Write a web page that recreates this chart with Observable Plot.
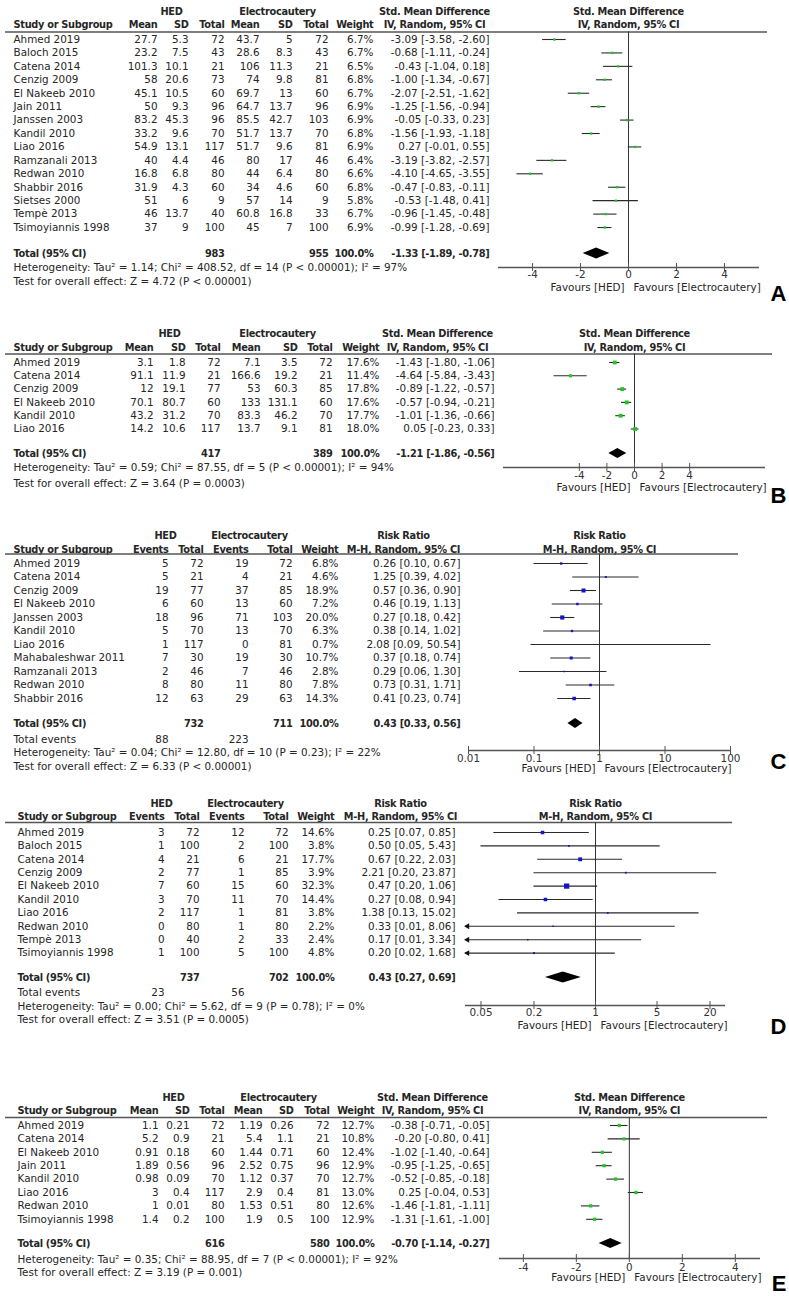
<!DOCTYPE html>
<html><head><meta charset="utf-8">
<script src="https://cdn.jsdelivr.net/npm/d3@7"></script>
<script src="https://cdn.jsdelivr.net/npm/@observablehq/plot@0.6"></script>
<style>
body{margin:0;background:#fff}
#root{position:relative;width:789px;height:1296px;overflow:hidden;background:#fff}
#root svg{position:absolute;left:0;font-family:"DejaVu Sans",sans-serif !important}
#root svg g[font-weight="bold"]{letter-spacing:-0.3px}
</style></head><body><div id="root"></div>
<script>
// ---------- Panel A : Std. Mean Difference ----------
const studiesA = ["Ahmed 2019","Baloch 2015","Catena 2014","Cenzig 2009","El Nakeeb 2010","Jain 2011","Janssen 2003","Kandil 2010","Liao 2016","Ramzanali 2013","Redwan 2010","Shabbir 2016","Sietses 2000","Tempè 2013","Tsimoyiannis 1998"];
const hedMeanA = [27.7,23.2,101.3,58,45.1,50,83.2,33.2,54.9,40,16.8,31.9,51,46,37];
const hedSdA = [5.3,7.5,10.1,20.6,10.5,9.3,45.3,9.6,13.1,4.4,6.8,4.3,6,13.7,9];
const hedNA = [72,43,21,73,60,96,96,70,117,46,80,60,9,40,100];
const elMeanA = [43.7,28.6,106,74,69.7,64.7,85.5,51.7,51.7,80,44,34,57,60.8,45];
const elSdA = [5,8.3,11.3,9.8,13,13.7,42.7,13.7,9.6,17,6.4,4.6,14,16.8,7];
const elNA = [72,43,21,81,60,96,103,70,81,46,80,60,9,33,100];
const weightA = [6.7,6.7,6.5,6.8,6.7,6.9,6.9,6.8,6.9,6.4,6.6,6.8,5.8,6.7,6.9];
const estA = [-3.09,-0.68,-0.43,-1.00,-2.07,-1.25,-0.05,-1.56,0.27,-3.19,-4.10,-0.47,-0.53,-0.96,-0.99];
const loA = [-3.58,-1.11,-1.04,-1.34,-2.51,-1.56,-0.33,-1.93,-0.01,-3.82,-4.65,-0.83,-1.48,-1.45,-1.28];
const hiA = [-2.60,-0.24,0.18,-0.67,-1.62,-0.94,0.23,-1.18,0.55,-2.57,-3.55,-0.11,0.41,-0.48,-0.69];
const totalA = {hedN:983, elN:955, est:-1.33, lo:-1.89, hi:-0.78};
const hetA = "Heterogeneity: Tau² = 1.14; Chi² = 408.52, df = 14 (P < 0.00001); I² = 97%";
const testA = "Test for overall effect: Z = 4.72 (P < 0.00001)";

// ---------- Panel B : Std. Mean Difference ----------
const studiesB = ["Ahmed 2019","Catena 2014","Cenzig 2009","El Nakeeb 2010","Kandil 2010","Liao 2016"];
const hedMeanB = [3.1,91.1,12,70.1,43.2,14.2];
const hedSdB = [1.8,11.9,19.1,80.7,31.2,10.6];
const hedNB = [72,21,77,60,70,117];
const elMeanB = [7.1,166.6,53,133,83.3,13.7];
const elSdB = [3.5,19.2,60.3,131.1,46.2,9.1];
const elNB = [72,21,85,60,70,81];
const weightB = [17.6,11.4,17.8,17.6,17.7,18.0];
const estB = [-1.43,-4.64,-0.89,-0.57,-1.01,0.05];
const loB = [-1.80,-5.84,-1.22,-0.94,-1.36,-0.23];
const hiB = [-1.06,-3.43,-0.57,-0.21,-0.66,0.33];
const totalB = {hedN:417, elN:389, est:-1.21, lo:-1.86, hi:-0.56};
const hetB = "Heterogeneity: Tau² = 0.59; Chi² = 87.55, df = 5 (P < 0.00001); I² = 94%";
const testB = "Test for overall effect: Z = 3.64 (P = 0.0003)";

// ---------- Panel C : Risk Ratio ----------
const studiesC = ["Ahmed 2019","Catena 2014","Cenzig 2009","El Nakeeb 2010","Janssen 2003","Kandil 2010","Liao 2016","Mahabaleshwar 2011","Ramzanali 2013","Redwan 2010","Shabbir 2016"];
const hedEvC = [5,5,19,6,18,5,1,7,2,8,12];
const hedNC = [72,21,77,60,96,70,117,30,46,80,63];
const elEvC = [19,4,37,13,71,13,0,19,7,11,29];
const elNC = [72,21,85,60,103,70,81,30,46,80,63];
const weightC = [6.8,4.6,18.9,7.2,20.0,6.3,0.7,10.7,2.8,7.8,14.3];
const estC = [0.26,1.25,0.57,0.46,0.27,0.38,2.08,0.37,0.29,0.73,0.41];
const loC = [0.10,0.39,0.36,0.19,0.18,0.14,0.09,0.18,0.06,0.31,0.23];
const hiC = [0.67,4.02,0.90,1.13,0.42,1.02,50.54,0.74,1.30,1.71,0.74];
const totalC = {hedN:732, elN:711, est:0.43, lo:0.33, hi:0.56, hedEv:88, elEv:223};
const hetC = "Heterogeneity: Tau² = 0.04; Chi² = 12.80, df = 10 (P = 0.23); I² = 22%";
const testC = "Test for overall effect: Z = 6.33 (P < 0.00001)";

// ---------- Panel D : Risk Ratio ----------
const studiesD = ["Ahmed 2019","Baloch 2015","Catena 2014","Cenzig 2009","El Nakeeb 2010","Kandil 2010","Liao 2016","Redwan 2010","Tempè 2013","Tsimoyiannis 1998"];
const hedEvD = [3,1,4,2,7,3,2,0,0,1];
const hedND = [72,100,21,77,60,70,117,80,40,100];
const elEvD = [12,2,6,1,15,11,1,1,2,5];
const elND = [72,100,21,85,60,70,81,80,33,100];
const weightD = [14.6,3.8,17.7,3.9,32.3,14.4,3.8,2.2,2.4,4.8];
const estD = [0.25,0.50,0.67,2.21,0.47,0.27,1.38,0.33,0.17,0.20];
const loD = [0.07,0.05,0.22,0.20,0.20,0.08,0.13,0.01,0.01,0.02];
const hiD = [0.85,5.43,2.03,23.87,1.06,0.94,15.02,8.06,3.34,1.68];
const totalD = {hedN:737, elN:702, est:0.43, lo:0.27, hi:0.69, hedEv:23, elEv:56};
const hetD = "Heterogeneity: Tau² = 0.00; Chi² = 5.62, df = 9 (P = 0.78); I² = 0%";
const testD = "Test for overall effect: Z = 3.51 (P = 0.0005)";

// ---------- Panel E : Std. Mean Difference ----------
const studiesE = ["Ahmed 2019","Catena 2014","El Nakeeb 2010","Jain 2011","Kandil 2010","Liao 2016","Redwan 2010","Tsimoyiannis 1998"];
const hedMeanE = [1.1,5.2,0.91,1.89,0.98,3,1,1.4];
const hedSdE = [0.21,0.9,0.18,0.56,0.09,0.4,0.01,0.2];
const hedNE = [72,21,60,96,70,117,80,100];
const elMeanE = [1.19,5.4,1.44,2.52,1.12,2.9,1.53,1.9];
const elSdE = [0.26,1.1,0.71,0.75,0.37,0.4,0.51,0.5];
const elNE = [72,21,60,96,70,81,80,100];
const weightE = [12.7,10.8,12.4,12.9,12.7,13.0,12.6,12.9];
const estE = [-0.38,-0.20,-1.02,-0.95,-0.52,0.25,-1.46,-1.31];
const loE = [-0.71,-0.80,-1.40,-1.25,-0.85,-0.04,-1.81,-1.61];
const hiE = [-0.05,0.41,-0.64,-0.65,-0.18,0.53,-1.11,-1.00];
const totalE = {hedN:616, elN:580, est:-0.70, lo:-1.14, hi:-0.27};
const hetE = "Heterogeneity: Tau² = 0.35; Chi² = 88.95, df = 7 (P < 0.00001); I² = 92%";
const testE = "Test for overall effect: Z = 3.19 (P = 0.001)";

// tick values / labels
const smdTicks = [-4,-2,0,2,4];
const smdTickLabels = ["-4","-2","0","2","4"];
const rrTicksC = [0.01,0.1,1,10,100];
const rrTickLabelsC = ["0.01","0.1","1","10","100"];
const rrTicksD = [0.05,0.2,1,5,20];
const rrTickLabelsD = ["0.05","0.2","1","5","20"];

// ---------- panel definitions (layout kept separate) ----------
const panels = [
  {letter:"A", kind:"cont", studies:studiesA, cols:[hedMeanA,hedSdA,hedNA,elMeanA,elSdA,elNA], weight:weightA, est:estA, lo:loA, hi:hiA, total:totalA, het:hetA, test:testA,
   effHdr:["Std. Mean Difference","IV, Random, 95% CI"], xType:"linear", nullV:0, ticks:smdTicks, tickLabels:smdTickLabels, color:"#22c622",
   L:{top:0, H:320, hdr1:11, hdr2:24, lineY:31.5, row0:39, rowH:13.43, total:253, het:267, test:281, axis:267, tick:274, fav:287, letterY:293,
      xr:[498,759], domain:[-5.42,5.46], lineX:[5,767], study:13, colX:[157,188,224,259,292,328,373], ci:489, hedC:171, elC:277, effC:434, dh:5.5}},
  {letter:"B", kind:"cont", studies:studiesB, cols:[hedMeanB,hedSdB,hedNB,elMeanB,elSdB,elNB], weight:weightB, est:estB, lo:loB, hi:hiB, total:totalB, het:hetB, test:testB,
   effHdr:["Std. Mean Difference","IV, Random, 95% CI"], xType:"linear", nullV:0, ticks:smdTicks, tickLabels:smdTickLabels, color:"#22c622",
   L:{top:320, H:200, hdr1:13, hdr2:27, lineY:33.5, row0:42, rowH:13.3, total:133, het:147, test:163, axis:147, tick:155, fav:167, letterY:175,
      xr:[503,765], domain:[-9.5,9.5], lineX:[5,772], study:13, colX:[153,185,220,260,297,332,379], ci:494, hedC:169, elC:277, effC:437, dh:5}},
  {letter:"C", kind:"dich", studies:studiesC, cols:[hedEvC,hedNC,elEvC,elNC], weight:weightC, est:estC, lo:loC, hi:hiC, total:totalC, het:hetC, test:testC,
   effHdr:["Risk Ratio","M-H, Random, 95% CI"], xType:"log", nullV:1, ticks:rrTicksC, tickLabels:rrTickLabelsC, color:"#1414c8",
   L:{top:520, H:260, hdr1:15, hdr2:29, lineY:33.5, row0:43, rowH:13.5, total:203, events:219, het:232, test:246, axis:230, tick:238, fav:248, letterY:241.5,
      xr:[468,730], domain:[0.01,100], lineX:[5,738], study:13, colX:[168,203,248,292,338], ci:460, hedC:165, elC:249, effC:403, dh:5}},
  {letter:"D", kind:"dich", studies:studiesD, cols:[hedEvD,hedND,elEvD,elND], weight:weightD, est:estD, lo:loD, hi:hiD, total:totalD, het:hetD, test:testD,
   effHdr:["Risk Ratio","M-H, Random, 95% CI"], xType:"log", nullV:1, ticks:rrTicksD, tickLabels:rrTickLabelsD, color:"#1414c8",
   L:{top:780, H:260, hdr1:23, hdr2:36, lineY:42, row0:52, rowH:13.4, total:197, events:212, het:226, test:239, axis:225, tick:232, fav:245, letterY:246.5,
      xr:[465,725], domain:[1/30,30], lineX:[5,732], study:17, colX:[164,199,244,288,334], ci:455, hedC:161, elC:245, effC:400, dh:5.5}},
  {letter:"E", kind:"cont", studies:studiesE, cols:[hedMeanE,hedSdE,hedNE,elMeanE,elSdE,elNE], weight:weightE, est:estE, lo:loE, hi:hiE, total:totalE, het:hetE, test:testE,
   effHdr:["Std. Mean Difference","IV, Random, 95% CI"], xType:"linear", nullV:0, ticks:smdTicks, tickLabels:smdTickLabels, color:"#22c622",
   L:{top:1040, H:256, hdr1:57, hdr2:70, lineY:77, row0:85, rowH:13.4, total:203, het:219, test:232, axis:218, tick:227, fav:237, letterY:243.5,
      xr:[499,760], domain:[-4.9,4.95], lineX:[5,767], study:17, colX:[158,189,224,262,293,329,374], ci:489, hedC:173, elC:278, effC:432, dh:5}}
];

const f2 = v => v.toFixed(2);
const ciText = (e,l,h) => `${f2(e)} [${f2(l)}, ${f2(h)}]`;
const INK = "#262626";
const FS = 10.4;      // regular text size
const FSB = 9.8;      // bold text size

function buildPanel(P) {
  const L = P.L;
  const cont = P.kind === "cont";
  const rows = P.studies.map((s,i) => ({study:s, i, y:L.row0 + i*L.rowH, est:P.est[i], lo:P.lo[i], hi:P.hi[i], w:P.weight[i]}));
  const [dmin, dmax] = L.domain;
  const T = (data, text, x, y, o = {}) => Plot.text(data, {frameAnchor:"left", dx:x, y, text, textAnchor:o.anchor || "end",
      fontWeight:o.bold ? "bold" : "normal", fontSize:o.bold ? FSB : FS, fill:INK, ...(o.extra || {})});
  const one = s => [s];
  const id = d => d;
  const sub = cont ? ["Mean","SD","Total","Mean","SD","Total","Weight"] : ["Events","Total","Events","Total","Weight"];
  const marks = [];
  // header
  marks.push(T(one("HED"), id, L.hedC, L.hdr1, {anchor:"middle", bold:true}));
  marks.push(T(one("Electrocautery"), id, L.elC, L.hdr1, {anchor:"middle", bold:true}));
  marks.push(T(one(P.effHdr[0]), id, L.effC, L.hdr1, {anchor:"middle", bold:true}));
  marks.push(T(one(P.effHdr[1]), id, L.effC, L.hdr2, {anchor:"middle", bold:true}));
  marks.push(T(one("Study or Subgroup"), id, L.study, L.hdr2, {anchor:"start", bold:true}));
  sub.forEach((s, c) => marks.push(T(one(s), id, L.colX[c], L.hdr2, {bold:true})));
  marks.push(Plot.text(one(P.effHdr[0]), {x:P.nullV, y:L.hdr1, text:id, fontWeight:"bold", fontSize:FSB, fill:INK}));
  marks.push(Plot.text(one(P.effHdr[1]), {x:P.nullV, y:L.hdr2, text:id, fontWeight:"bold", fontSize:FSB, fill:INK}));
  marks.push(Plot.ruleY([L.lineY], {insetLeft:L.lineX[0], insetRight:789 - L.lineX[1], stroke:"#555", strokeWidth:1.3}));
  // study rows
  marks.push(T(rows, d => d.study, L.study, d => d.y, {anchor:"start"}));
  P.cols.forEach((arr, c) => marks.push(T(rows, d => String(arr[d.i]), L.colX[c], d => d.y)));
  marks.push(T(rows, d => d.w.toFixed(1) + "%", L.colX[P.cols.length], d => d.y));
  marks.push(T(rows, d => ciText(d.est, d.lo, d.hi), L.ci, d => d.y));
  // total row
  const tot = P.total;
  const totIdx = cont ? [2, 5] : [1, 3];
  marks.push(T(one("Total (95% CI)"), id, L.study, L.total, {anchor:"start", bold:true}));
  marks.push(T(one(String(tot.hedN)), id, L.colX[totIdx[0]], L.total, {bold:true}));
  marks.push(T(one(String(tot.elN)), id, L.colX[totIdx[1]], L.total, {bold:true}));
  marks.push(T(one("100.0%"), id, L.colX[P.cols.length], L.total, {bold:true}));
  marks.push(T(one(ciText(tot.est, tot.lo, tot.hi)), id, L.ci, L.total, {bold:true}));
  if (!cont) {
    marks.push(T(one("Total events"), id, L.study, L.events, {anchor:"start"}));
    marks.push(T(one(String(tot.hedEv)), id, L.colX[0], L.events));
    marks.push(T(one(String(tot.elEv)), id, L.colX[2], L.events));
  }
  marks.push(T(one(P.het), id, L.study, L.het, {anchor:"start"}));
  marks.push(T(one(P.test), id, L.study, L.test, {anchor:"start"}));
  // forest
  marks.push(Plot.ruleX([P.nullV], {y1:L.lineY, y2:L.axis, stroke:"#333", strokeWidth:1}));
  const inside = rows.filter(d => d.lo >= dmin);
  const clipped = rows.filter(d => d.lo < dmin);
  marks.push(Plot.ruleY(inside, {x1:"lo", x2:"hi", y:"y", stroke:"#2a2a2a", strokeWidth:1.1}));
  marks.push(Plot.ruleY(clipped, {x1:() => dmin, x2:"hi", y:"y", stroke:"#2a2a2a", strokeWidth:1.1}));
  marks.push(Plot.dot(clipped, {x:() => dmin, y:"y", symbol:"triangle", rotate:-90, r:2.2, fill:"#111", stroke:null, dx:2}));
  marks.push(Plot.dot(rows, {x:"est", y:"y", r:"w", symbol:"square", fill:P.color, stroke:null}));
  const dia = [
    {x:tot.lo, y1:L.total, y2:L.total},
    {x:tot.est, y1:L.total - L.dh, y2:L.total + L.dh},
    {x:tot.hi, y1:L.total, y2:L.total}
  ];
  marks.push(Plot.areaY(dia, {x:"x", y1:"y1", y2:"y2", fill:"#000"}));
  // axis
  marks.push(Plot.ruleY([L.axis], {x1:() => dmin, x2:() => dmax, stroke:"#555", strokeWidth:1.3}));
  marks.push(Plot.ruleX(P.ticks, {x:id, y1:L.axis - 4, y2:L.axis + 4, stroke:"#555", strokeWidth:1}));
  marks.push(Plot.text(P.ticks, {x:id, y:L.tick, text:(d, i) => P.tickLabels[i], fill:"#333", fontSize:FS}));
  marks.push(Plot.text(one("Favours [HED]"), {x:P.nullV, y:L.fav, text:id, textAnchor:"end", dx:-4, fill:INK, fontSize:FS}));
  marks.push(Plot.text(one("Favours [Electrocautery]"), {x:P.nullV, y:L.fav, text:id, textAnchor:"start", dx:5, fill:INK, fontSize:FS}));
  marks.push(Plot.text(one(P.letter), {frameAnchor:"left", dx:786, y:L.letterY, text:id, textAnchor:"end", fontWeight:"900",
      fontSize:22, fontFamily:"'Liberation Sans', Arial, sans-serif", fill:"#000"}));

  const svg = Plot.plot({
    width:789, height:L.H,
    marginLeft:0, marginRight:0, marginTop:0, marginBottom:0,
    x:{type:P.xType, domain:L.domain, range:L.xr, axis:null},
    y:{type:"identity", axis:null},
    r:{type:"sqrt", domain:[0,100], range:[0,5.2]},
    style:{fontSize:FS + "px", background:"transparent", overflow:"visible"},
    marks
  });
  svg.style.top = L.top + "px";
  return svg;
}

const root = document.getElementById("root");
panels.forEach(P => root.appendChild(buildPanel(P)));
</script>
</body></html>
